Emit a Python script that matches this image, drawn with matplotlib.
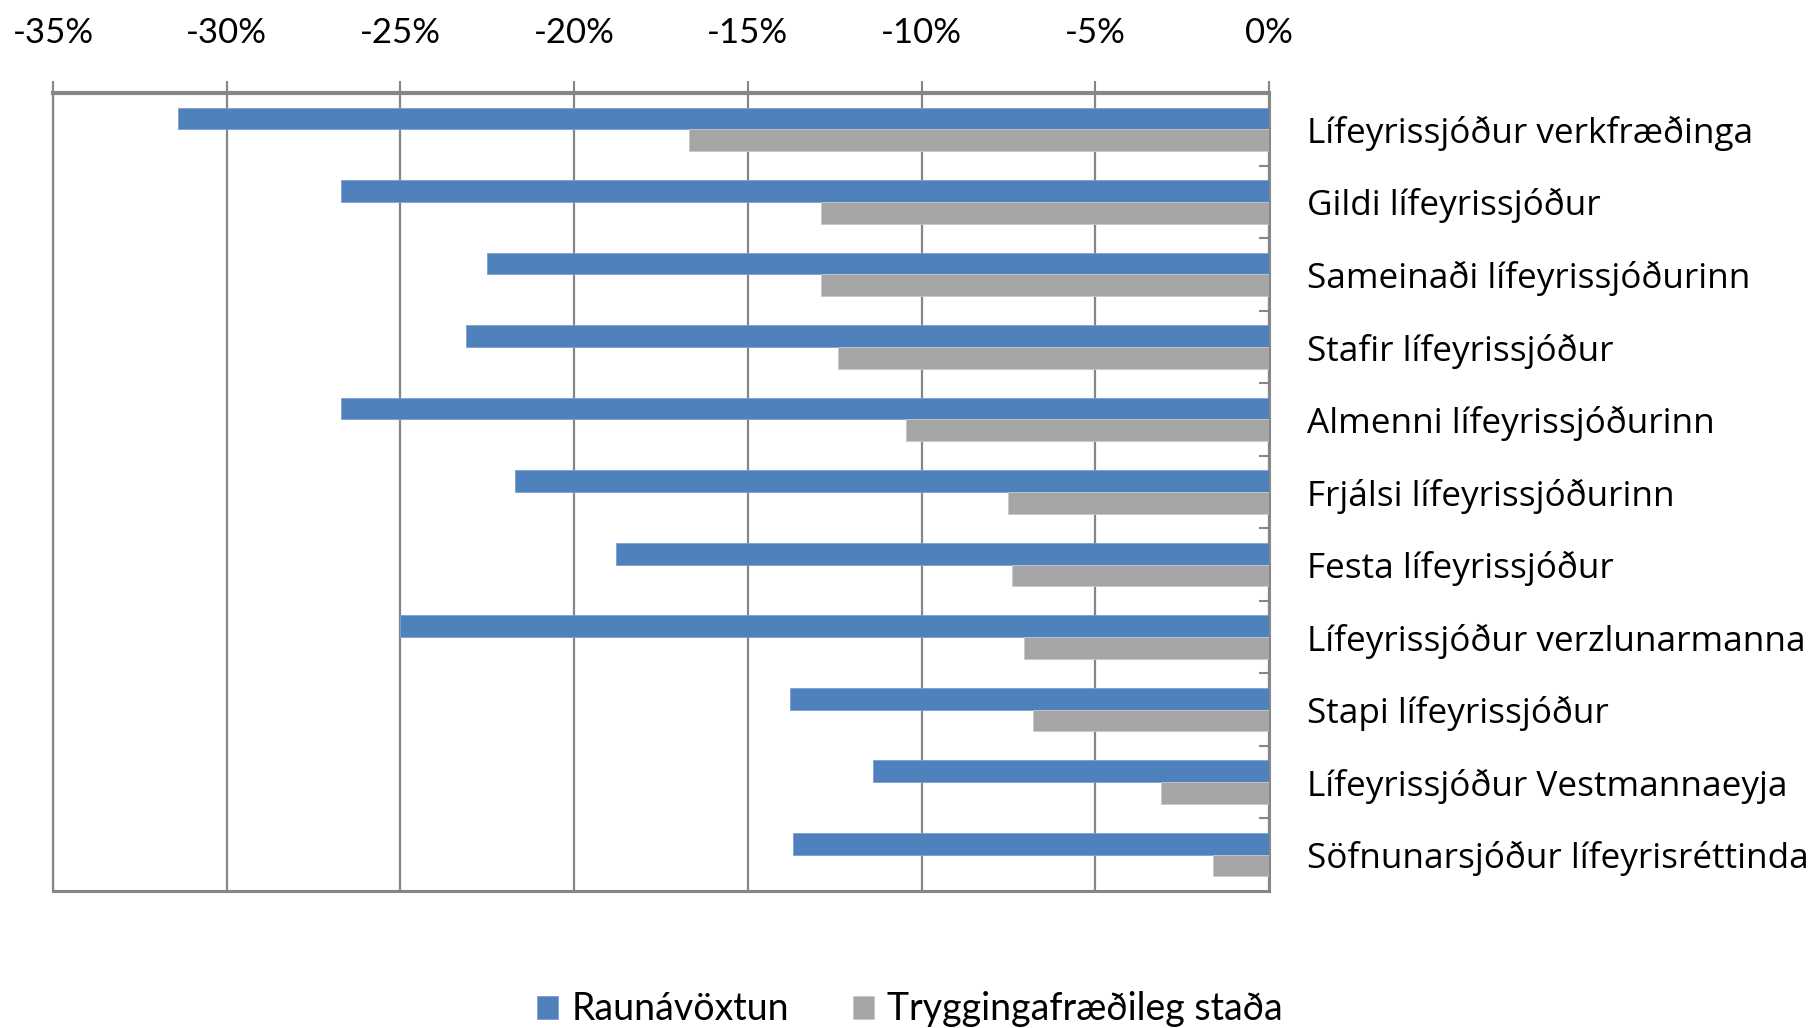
import numpy as np
import matplotlib.pyplot as plt
from matplotlib.ticker import FuncFormatter, FixedLocator

plt.rcParams['font.family'] = ['Lato', 'DejaVu Sans']

funds = ["Lífeyrissjóður verkfræðinga", "Gildi lífeyrissjóður",
         "Sameinaði lífeyrissjóðurinn", "Stafir lífeyrissjóður",
         "Almenni lífeyrissjóðurinn", "Frjálsi lífeyrissjóðurinn",
         "Festa lífeyrissjóður", "Lífeyrissjóður verzlunarmanna",
         "Stapi lífeyrissjóður", "Lífeyrissjóður Vestmannaeyja",
         "Söfnunarsjóður lífeyrisréttinda"]
raunavoxtun = [-31.4, -26.7, -22.5, -23.1, -26.7, -21.7, -18.8, -25.0, -13.8, -11.4, -13.7]
tryggingafr = [-16.7, -12.9, -12.9, -12.4, -10.45, -7.5, -7.4, -7.05, -6.8, -3.1, -1.6]
series_names = ["Raunávöxtun", "Tryggingafræðileg staða"]

blue = "#4F81BD"
grey = "#A6A6A6"
axcol = "#868686"

fig = plt.figure(figsize=(18.2, 10.28), dpi=100)
ax = fig.add_axes([0.0291, 0.1333, 0.6682, 0.7762])

y = np.arange(len(funds))
h = 0.3
ax.barh(y - h / 2, raunavoxtun, height=h, color=blue, edgecolor="#7A9FD0", linewidth=0.6, label=series_names[0], zorder=3)
ax.barh(y + h / 2, tryggingafr, height=h, color=grey, edgecolor="#C8C8C8", linewidth=0.6, label=series_names[1], zorder=3)

ax.set_xlim(-35, 0)
ax.set_ylim(len(funds) - 0.5, -0.5)

ax.xaxis.tick_top()
ax.set_xticks(np.arange(-35, 1, 5))
ax.xaxis.set_major_formatter(FuncFormatter(lambda v, p: f"{int(round(v))}%"))
ax.tick_params(axis="x", direction="out", length=9, width=1.5, color=axcol,
               labelsize=25, pad=23)
ax.grid(axis="x", color=axcol, linewidth=1.6, zorder=0)

ax.yaxis.tick_right()
ax.set_yticks(y)
ax.set_yticklabels(funds, family=["Open Sans", "DejaVu Sans"])
ax.yaxis.set_minor_locator(FixedLocator(np.arange(0.5, len(funds) - 1, 1)))
ax.tick_params(axis="y", which="major", length=0, labelsize=25.3, pad=27)
ax.tick_params(axis="y", which="minor", direction="in", length=7, width=1.5, color=axcol)

for side in ["top", "bottom", "left", "right"]:
    ax.spines[side].set_color(axcol)
ax.spines["top"].set_linewidth(3)
ax.spines["bottom"].set_linewidth(2.2)
ax.spines["left"].set_linewidth(1.6)
ax.spines["right"].set_linewidth(2.2)

fig.legend(loc="center", bbox_to_anchor=(0.5, 0.018), ncol=2, frameon=False,
           fontsize=27, handlelength=0.56, handleheight=0.56, handletextpad=0.35,
           columnspacing=1.7)

fig.savefig("out.png", dpi=100)
